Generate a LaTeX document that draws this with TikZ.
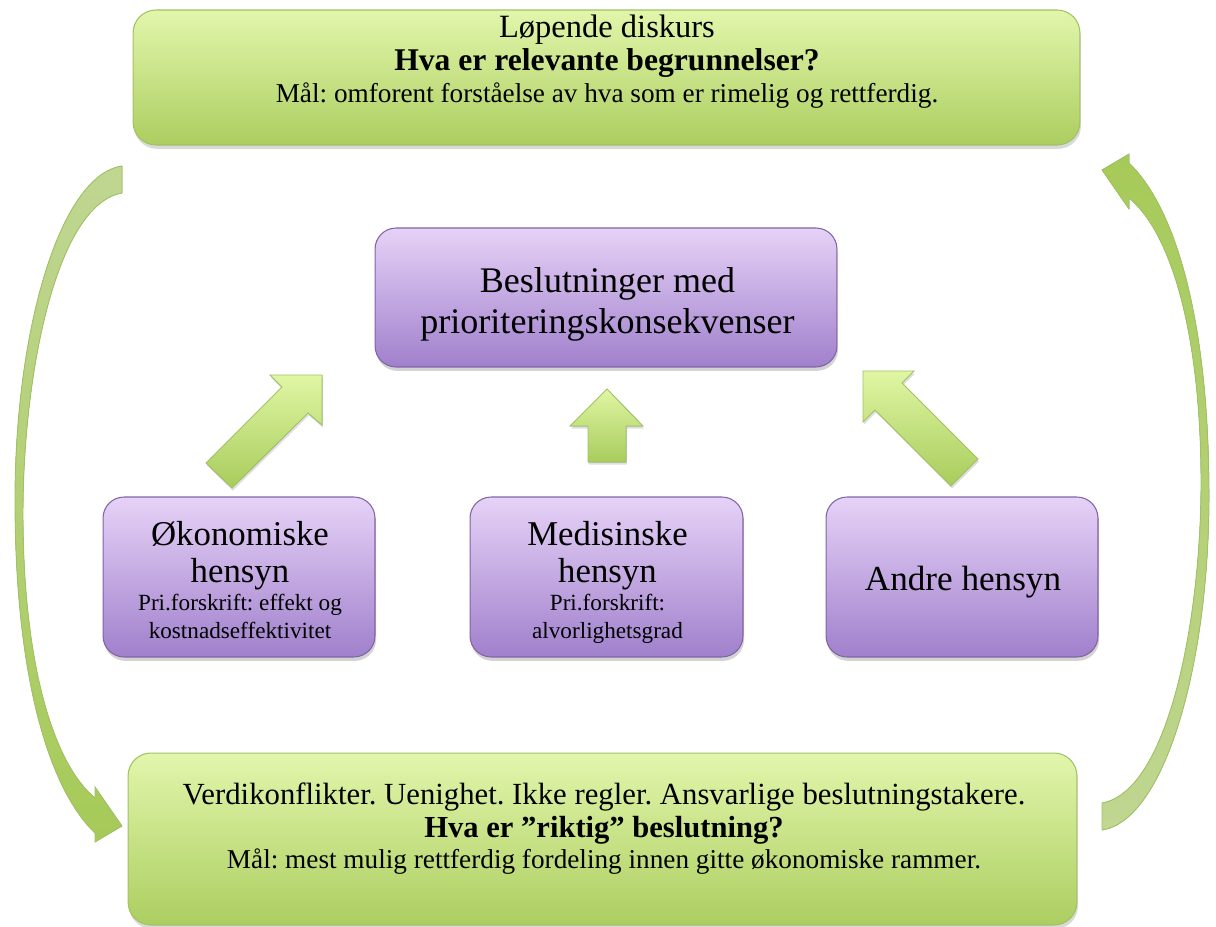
\documentclass[tikz,border=0pt]{standalone}
\usepackage{fontspec}
\setmainfont{Liberation Serif}
\usepackage{tikz}
\usetikzlibrary{shadows}
\frenchspacing

\definecolor{greentop}{RGB}{226,246,172}
\definecolor{greenbot}{RGB}{172,206,96}
\definecolor{greenline}{RGB}{160,195,100}
\definecolor{purpletop}{RGB}{230,210,247}
\definecolor{purplebot}{RGB}{160,128,204}
\definecolor{purpleline}{RGB}{128,100,165}
\definecolor{arrowtip}{RGB}{224,246,164}
\definecolor{arrowtail}{RGB}{168,204,92}
\definecolor{bendpale}{RGB}{192,214,146}
\definecolor{bendstrong}{RGB}{166,202,88}

\begin{document}
\begin{tikzpicture}[
  x=0.02cm, y=-0.02cm,
  greenbox/.style={rectangle, rounded corners=13pt, draw=greenline, line width=0.6pt, top color=greentop, bottom color=greenbot, drop shadow={shadow xshift=0.6pt, shadow yshift=-2.2pt, opacity=0.3}},
  purplebox/.style={rectangle, rounded corners=12pt, draw=purpleline, line width=0.6pt, top color=purpletop, bottom color=purplebot, drop shadow={shadow xshift=0.6pt, shadow yshift=-2.2pt, opacity=0.35}},
  txt/.style={align=center, inner sep=0pt, anchor=north},
  blockarrow/.style={draw=greenline, line width=0.5pt, top color=arrowtip, bottom color=arrowtail, drop shadow={shadow xshift=0.5pt, shadow yshift=-1.5pt, opacity=0.25}},
  bendarrow/.style={draw=greenline, line width=0.5pt}
]
\useasboundingbox (0,0) rectangle (1216,926);

% Discourse boxes (green)
\node[greenbox, minimum width=18.94cm, minimum height=2.7cm] (diskurs) at (606.5,77.5) {};
\node[greenbox, minimum width=18.98cm, minimum height=3.44cm] (beslutning) at (602.5,839) {};

\node[txt, font=\fontsize{15.5}{18.4}\selectfont] (diskurstxt) at (607,15)
  {{\fontsize{18.5}{18.4}\selectfont Løpende diskurs}\\
   {\bfseries\fontsize{18}{18.4}\selectfont Hva er relevante begrunnelser?}\\
   Mål: omforent forståelse av hva som er rimelig og rettferdig.};
\node[txt, font=\fontsize{15.5}{17.6}\selectfont] (beslutningtxt) at (604,782)
  {{\fontsize{17.5}{17.6}\selectfont Verdikonflikter. Uenighet. Ikke regler. Ansvarlige beslutningstakere.}\\[1.7pt]
   {\bfseries\fontsize{17.4}{17.6}\selectfont Hva er ”riktig” beslutning?}\\
   Mål: mest mulig rettferdig fordeling innen gitte økonomiske rammer.};

% Decision box and the three considerations (purple)
\node[purplebox, minimum width=9.24cm, minimum height=2.78cm] (prio) at (606,297.5) {};
\node[purplebox, minimum width=5.44cm, minimum height=3.2cm] (okon) at (239,577) {};
\node[purplebox, minimum width=5.46cm, minimum height=3.2cm] (medis) at (606.5,577) {};
\node[purplebox, minimum width=5.44cm, minimum height=3.2cm] (andre) at (962,577) {};

\node[txt, font=\fontsize{20.5}{23.2}\selectfont] (priotxt) at (607.5,267)
  {Beslutninger med\\ prioriteringskonsekvenser};
\node[txt, font=\fontsize{13.2}{15.9}\selectfont] (okontxt) at (240,521)
  {{\fontsize{19.8}{15.9}\selectfont Økonomiske}\\[5.1pt]
   {\fontsize{19.8}{15.9}\selectfont hensyn}\\
   Pri.forskrift: effekt og\\ kostnadseffektivitet};
\node[txt, font=\fontsize{13.2}{15.9}\selectfont] (medistxt) at (607.5,521)
  {{\fontsize{19.8}{15.9}\selectfont Medisinske}\\[5.1pt]
   {\fontsize{19.8}{15.9}\selectfont hensyn}\\
   Pri.forskrift:\\ alvorlighetsgrad};
\node[txt, anchor=base, font=\fontsize{20}{24}\selectfont] (andretxt) at (963,590) {Andre hensyn};

% Block arrows up to the decision box
\filldraw[blockarrow] (322,375) -- (322,425) -- (308,413) -- (232,488) -- (206,463) -- (282,387) -- (270,375) -- cycle;
\filldraw[blockarrow] (607,389) -- (643,426) -- (626,426) -- (626,462) -- (588,462) -- (588,426) -- (570,426) -- cycle;
\filldraw[blockarrow] (863,371) -- (914,371) -- (902,383) -- (978,459) -- (951,486) -- (875,410) -- (863,422) -- cycle;

% Bent arrows round the whole cycle
\filldraw[bendarrow, top color=bendpale, bottom color=bendstrong]
  (122,166) .. controls (60,175) and (15,330) .. (15,500)
  .. controls (15,680) and (50,790) .. (95,833) -- (95,842) -- (122,826) -- (95,787) -- (95,798)
  .. controls (55,765) and (24,670) .. (23,520)
  .. controls (22,380) and (55,205) .. (122,193) -- cycle;
\filldraw[bendarrow, top color=bendstrong, bottom color=bendpale]
  (1102,830) .. controls (1164,821) and (1209,666) .. (1209,496)
  .. controls (1209,316) and (1174,206) .. (1129,163) -- (1129,154) -- (1102,170) -- (1129,209) -- (1129,198)
  .. controls (1169,231) and (1200,326) .. (1201,476)
  .. controls (1202,616) and (1169,791) .. (1102,803) -- cycle;

\end{tikzpicture}
\end{document}
